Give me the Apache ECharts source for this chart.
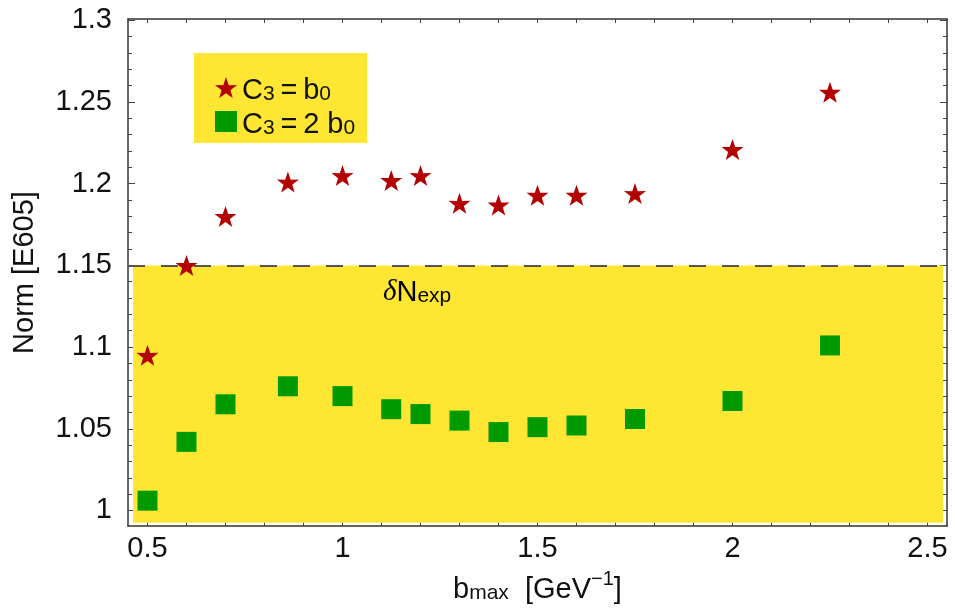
<!DOCTYPE html>
<html>
<head>
<meta charset="utf-8">
<script src="https://cdn.jsdelivr.net/npm/echarts@6/dist/echarts.min.js"></script>
<style>
  html, body { margin: 0; padding: 0; background: #fff; }
  #chart { width: 955px; height: 611px; }
</style>
</head>
<body>
<div id="chart"></div>
<script>
// b_max values [GeV^-1]
var bmax = [0.5, 0.6, 0.7, 0.86, 1.0, 1.125, 1.2, 1.3, 1.4, 1.5, 1.6, 1.75, 2.0, 2.25];
// Norm [E605] for C3 = b0 (stars) and C3 = 2 b0 (squares)
var normB0 = [1.095, 1.150, 1.180, 1.201, 1.205, 1.202, 1.205, 1.188, 1.187, 1.193, 1.193, 1.194, 1.221, 1.256];
var norm2B0 = [1.006, 1.042, 1.065, 1.076, 1.070, 1.062, 1.059, 1.055, 1.048, 1.051, 1.052, 1.056, 1.067, 1.101];

// experimental normalisation band and its upper edge
var bandX = [0.463, 2.54];
var bandY = [0.9925, 1.15];

// tick labels / tick marks
var xLabelVals = [0.5, 1, 1.5, 2, 2.5];
var xTickVals = [0.5, 0.6, 0.7, 0.8, 0.9, 1.0, 1.1, 1.2, 1.3, 1.4, 1.5, 1.6, 1.7, 1.8, 1.9, 2.0, 2.1, 2.2, 2.3, 2.4, 2.5];
var yLabelVals = [1, 1.05, 1.1, 1.15, 1.2, 1.25, 1.3];
var yMinorVals = [1.0, 1.01, 1.02, 1.03, 1.04, 1.05, 1.06, 1.07, 1.08, 1.09, 1.1, 1.11, 1.12, 1.13, 1.14, 1.15,
  1.16, 1.17, 1.18, 1.19, 1.2, 1.21, 1.22, 1.23, 1.24, 1.25, 1.26, 1.27, 1.28, 1.29, 1.3];

var seriesNames = ['C3=b0', 'C3=2 b0'];

var FONT = "'Liberation Sans', Arial, sans-serif";
var FS = 29;
var YELLOW = '#FEE633';
var starPath = 'path://M50,0 L61.8,35.1 L97.6,34.5 L69,56.7 L79.4,90.5 L50,70 L20.6,90.5 L31,56.7 L2.4,34.5 L38.2,35.1 Z';

var rich = {
  n: { fontSize: FS, fontFamily: FONT, color: '#111', lineHeight: 35, verticalAlign: 'bottom' },
  s: { fontSize: 21, fontFamily: FONT, color: '#111', lineHeight: 11, verticalAlign: 'bottom' },
  u: { fontSize: 20, fontFamily: FONT, color: '#111', lineHeight: 18, verticalAlign: 'top' }
};

var chart = echarts.init(document.getElementById('chart'));

function fmt(v) { return String(+v.toFixed(2)); }

var frameLine = { show: true, lineStyle: { color: '#333', width: 1.5 } };
var tickStyle = { color: '#444', width: 1 };

var option = {
  animation: false,
  grid: { left: 128, right: 8, top: 19, bottom: 85 },
  legend: {
    orient: 'vertical',
    left: 194,
    top: 53,
    padding: [23, 12, 4, 21],
    backgroundColor: YELLOW,
    itemGap: 5,
    itemWidth: 22,
    itemHeight: 21,
    data: seriesNames,
    formatter: function (name) {
      return name === seriesNames[0]
        ? '{n|C}{s|3}{n|\u2009=\u2009b}{s|0}'
        : '{n|C}{s|3}{n|\u2009=\u20092 b}{s|0}';
    },
    textStyle: { rich: rich }
  },
  xAxis: [{
    type: 'value', position: 'bottom', min: 0.45, max: 2.55,
    axisLine: frameLine,
    axisTick: { inside: true, length: 4, customValues: xTickVals, lineStyle: tickStyle },
    axisLabel: { customValues: xLabelVals, formatter: fmt, fontSize: FS, fontFamily: FONT, color: '#111', margin: 8 },
    splitLine: { show: false },
    name: '{n|b}{s|max}{n|  [GeV}{u|\u22121}{n|]}',
    nameLocation: 'middle', nameGap: 43,
    nameTextStyle: { rich: rich }
  }, {
    type: 'value', position: 'top', min: 0.45, max: 2.55,
    axisLine: frameLine,
    axisTick: { inside: true, length: 4, customValues: xTickVals, lineStyle: tickStyle },
    axisLabel: { show: false },
    splitLine: { show: false }
  }],
  yAxis: [{
    type: 'value', position: 'left', min: 0.9905, max: 1.3008,
    axisLine: frameLine,
    axisTick: { inside: true, length: 7, customValues: yLabelVals, lineStyle: tickStyle },
    axisLabel: { customValues: yLabelVals, formatter: fmt, fontSize: FS, fontFamily: FONT, color: '#111', margin: 16 },
    splitLine: { show: false },
    name: 'Norm [E605]',
    nameLocation: 'middle', nameGap: 89, nameRotate: 90,
    nameTextStyle: { fontSize: FS, fontFamily: FONT, color: '#111' }
  }, {
    type: 'value', position: 'right', min: 0.9905, max: 1.3008,
    axisLine: frameLine,
    axisTick: { inside: true, length: 7, customValues: yLabelVals, lineStyle: tickStyle },
    axisLabel: { show: false },
    splitLine: { show: false }
  }, {
    type: 'value', position: 'left', min: 0.9905, max: 1.3008,
    axisLine: { show: false },
    axisTick: { inside: true, length: 4, customValues: yMinorVals, lineStyle: tickStyle },
    axisLabel: { show: false },
    splitLine: { show: false }
  }, {
    type: 'value', position: 'right', min: 0.9905, max: 1.3008,
    axisLine: { show: false },
    axisTick: { inside: true, length: 4, customValues: yMinorVals, lineStyle: tickStyle },
    axisLabel: { show: false },
    splitLine: { show: false }
  }],
  graphic: [{
    type: 'text',
    left: 383, top: 278,
    z: 10,
    style: {
      text: '{d|\u03b4}{n|N}{s|exp}',
      rich: {
        d: { fontSize: FS, fontFamily: "'Liberation Serif', 'Times New Roman', serif", fontStyle: 'italic', color: '#111', lineHeight: 35, verticalAlign: 'bottom' },
        n: rich.n,
        s: rich.s
      }
    }
  }],
  series: [{
    name: 'band',
    type: 'line',
    data: [],
    silent: true,
    z: 1,
    markArea: {
      silent: true,
      itemStyle: { color: YELLOW },
      data: [[{ coord: [bandX[0], bandY[0]] }, { coord: [bandX[1], bandY[1]] }]]
    },
    markLine: {
      silent: true,
      symbol: 'none',
      label: { show: false },
      lineStyle: { color: '#555', width: 2, type: [17, 16] },
      data: [{ yAxis: bandY[1] }]
    }
  }, {
    name: seriesNames[0],
    type: 'scatter',
    z: 5,
    symbol: starPath,
    symbolSize: [22, 21],
    itemStyle: { color: '#B30000', opacity: 1 },
    data: bmax.map(function (x, i) { return [x, normB0[i]]; })
  }, {
    name: seriesNames[1],
    type: 'scatter',
    z: 5,
    symbol: 'rect',
    symbolSize: 20,
    itemStyle: { color: '#009900', opacity: 1 },
    data: bmax.map(function (x, i) { return [x, norm2B0[i]]; })
  }]
};

chart.setOption(option);
</script>
</body>
</html>
